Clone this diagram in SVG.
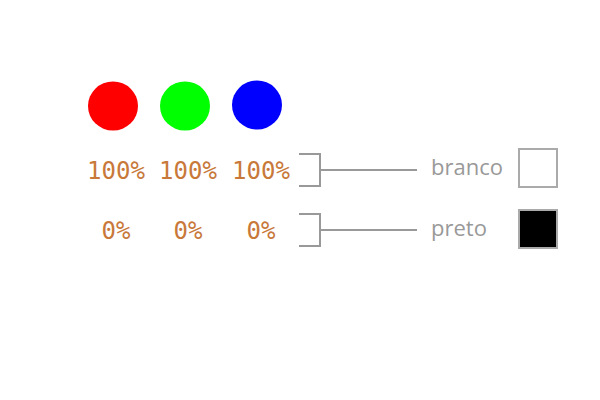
<svg xmlns="http://www.w3.org/2000/svg" width="600" height="400" viewBox="0 0 600 400">
<style>
.pct{font-family:"DejaVu Sans Mono",monospace;font-size:24px;fill:#c8793a;text-anchor:middle}
.lbl{font-family:"Open Sans","Liberation Sans",sans-serif;font-size:22px;fill:#999}
.br{fill:none;stroke:#999;stroke-width:2}
.sw{stroke:#aaa;stroke-width:2}
</style>
<rect width="600" height="400" fill="#fff"/>
<g id="red"><ellipse cx="113" cy="106" rx="25" ry="24.5" fill="#f00"/></g>
<g id="green"><ellipse cx="185" cy="106" rx="25" ry="24.5" fill="#0f0"/></g>
<g id="blue"><ellipse cx="257" cy="105" rx="25" ry="24.5" fill="#00f"/></g>
<g id="row100">
<text class="pct" x="116" y="179">100%</text>
<text class="pct" x="188" y="179">100%</text>
<text class="pct" x="261" y="179">100%</text>
</g>
<g id="row0">
<text class="pct" x="116" y="239">0%</text>
<text class="pct" x="188" y="239">0%</text>
<text class="pct" x="261" y="239">0%</text>
</g>
<g id="connectors">
<path class="br" d="M299 154H320V186H299M320 170H417"/>
<path class="br" d="M299 214H320V246H299M320 230H417"/>
</g>
<g id="branco">
<text class="lbl" x="431" y="175">branco</text>
<rect class="sw" x="519" y="149" width="38" height="38" fill="#fff"/>
</g>
<g id="preto">
<text class="lbl" x="431" y="236">preto</text>
<rect class="sw" x="519" y="210" width="38" height="38" fill="#000"/>
</g>
</svg>
